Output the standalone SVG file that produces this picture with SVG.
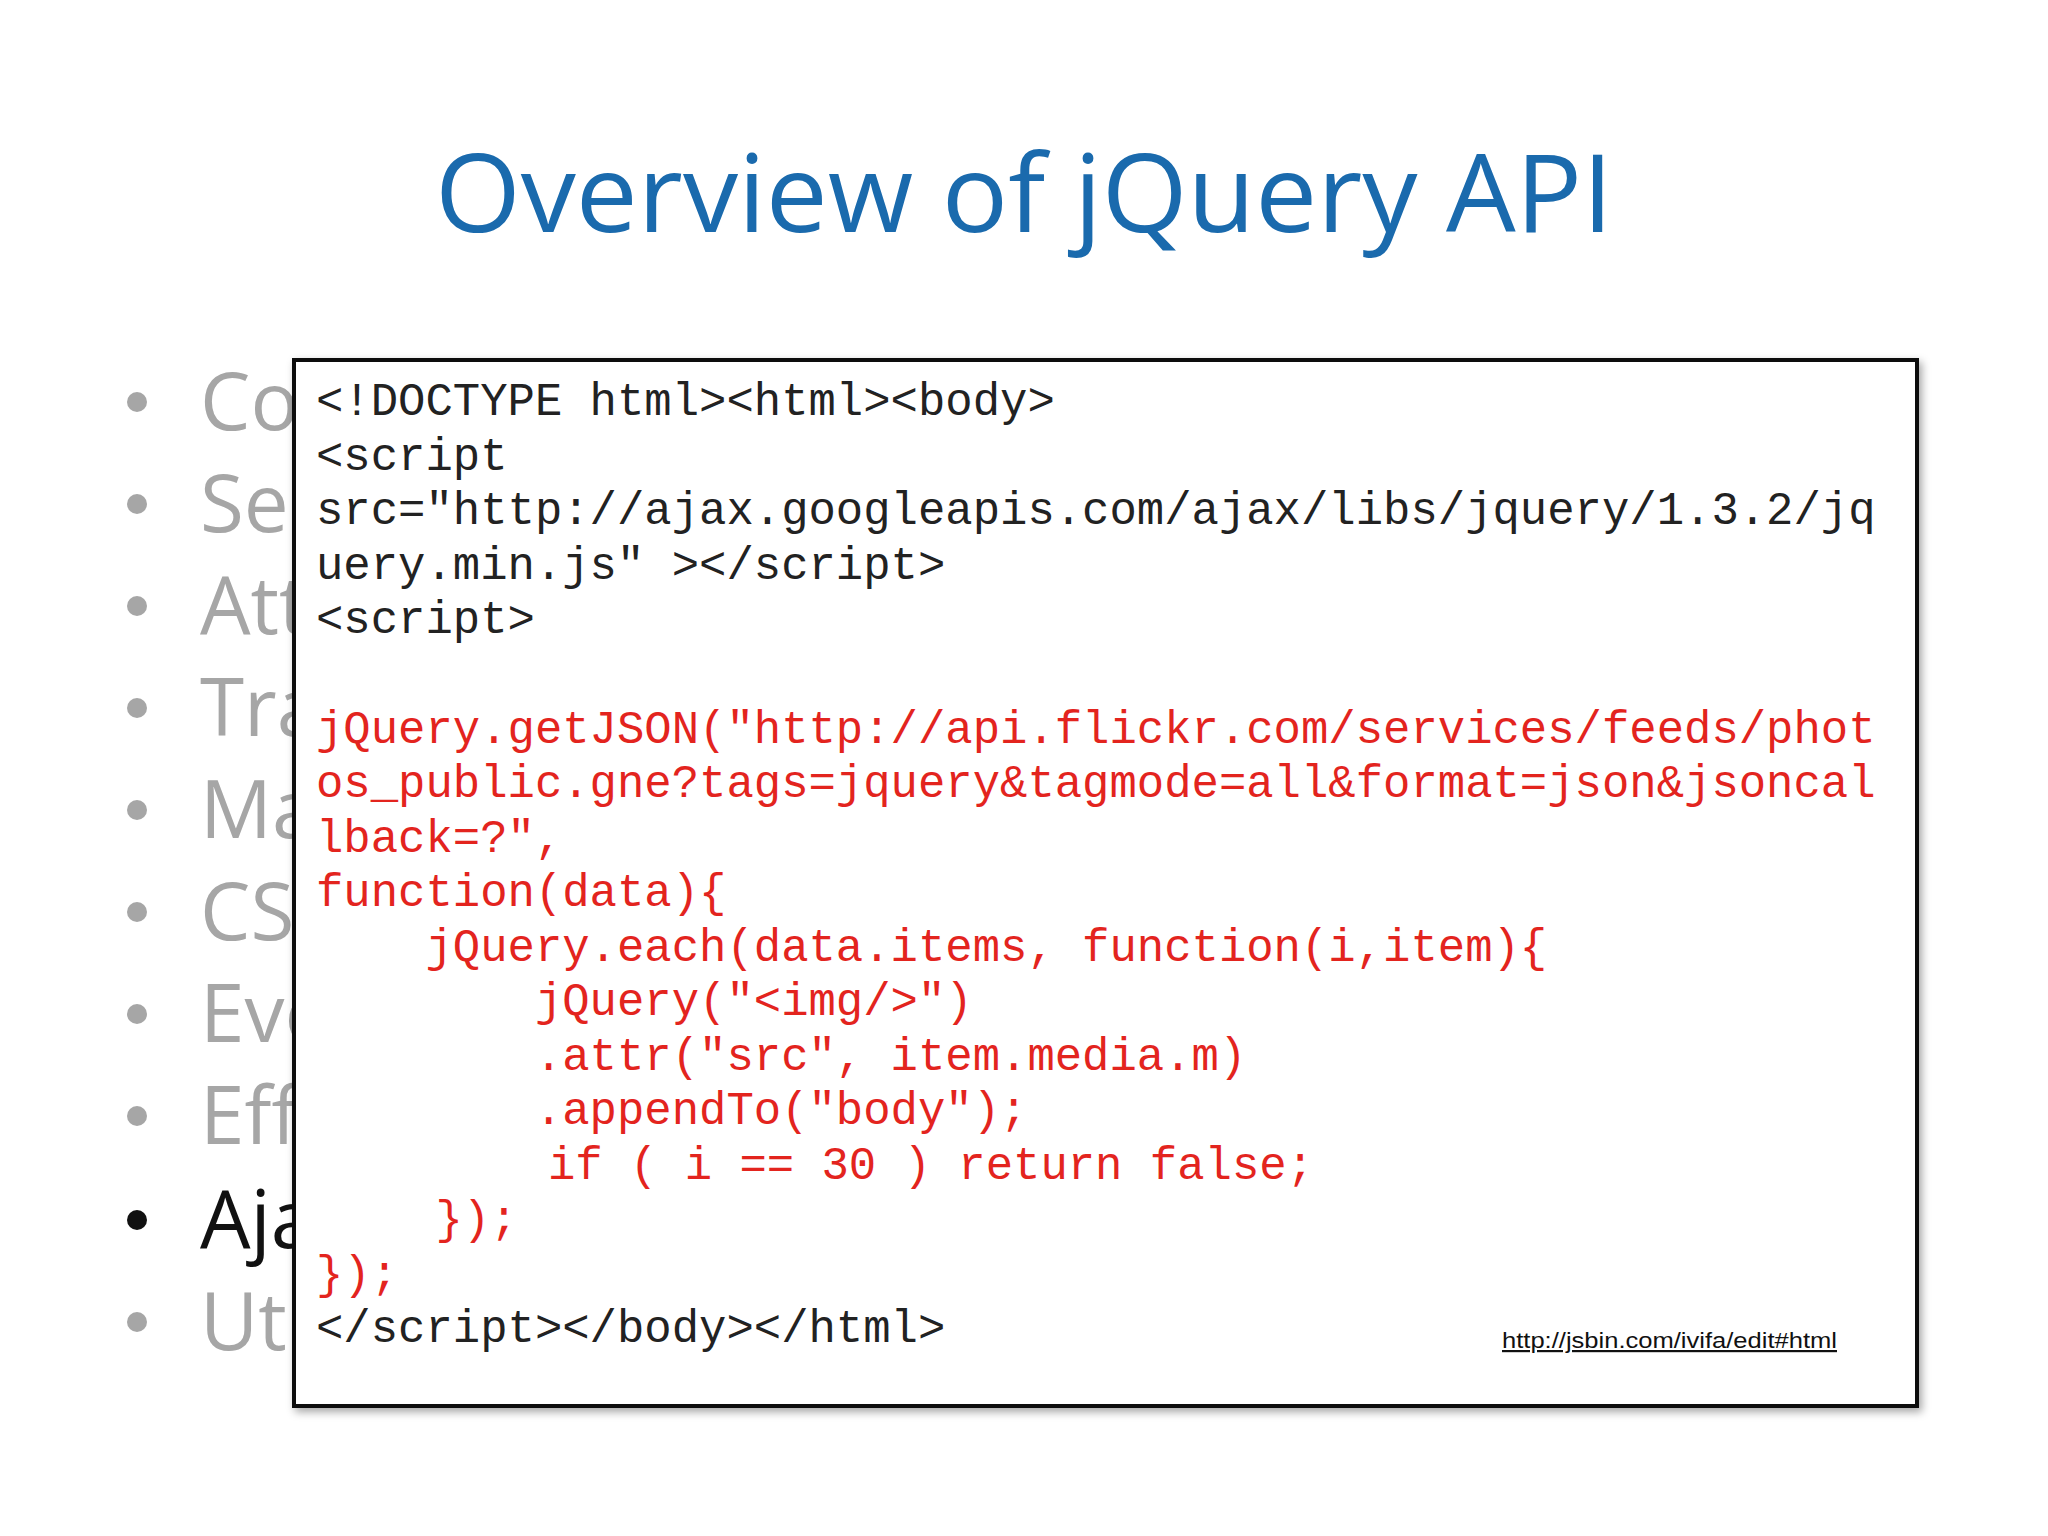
<svg xmlns="http://www.w3.org/2000/svg" width="2048" height="1536" viewBox="0 0 2048 1536">
<style>
.b{font-family:"Open Sans","Liberation Sans",sans-serif;font-size:80px;fill:#a6a6a6}
.d{fill:#a6a6a6}
.c{font-family:"Liberation Mono","DejaVu Sans Mono",monospace;font-size:45.6px;white-space:pre}
.k{fill:#222}
.r{fill:#e3241e}
</style>
<defs>
<filter id="sh" x="-5%" y="-5%" width="110%" height="110%"><feDropShadow dx="3" dy="4" stdDeviation="4" flood-opacity="0.35"/></filter>
<clipPath id="cl"><rect x="0" y="300" width="294" height="1150"/></clipPath>
</defs>
<rect width="2048" height="1536" fill="#fff"/>
<text x="1024" y="232" text-anchor="middle" font-family="'Open Sans','Liberation Sans',sans-serif" font-size="108" fill="#1a6aad" textLength="1178" lengthAdjust="spacingAndGlyphs">Overview of jQuery API</text>
<g id="bullets" clip-path="url(#cl)">
<circle class="d" cx="137" cy="402" r="10"/><text class="b" x="200" y="430">Core</text>
<circle class="d" cx="137" cy="504" r="10"/><text class="b" x="200" y="532">Selectors</text>
<circle class="d" cx="137" cy="606" r="10"/><text class="b" x="200" y="634">Attributes</text>
<circle class="d" cx="137" cy="708" r="10"/><text class="b" x="200" y="736">Traversing</text>
<circle class="d" cx="137" cy="810" r="10"/><text class="b" x="200" y="838">Manipulation</text>
<circle class="d" cx="137" cy="912" r="10"/><text class="b" x="200" y="940">CSS</text>
<circle class="d" cx="137" cy="1014" r="10"/><text class="b" x="200" y="1042">Events</text>
<circle class="d" cx="137" cy="1116" r="10"/><text class="b" x="200" y="1144">Effects</text>
<circle cx="137" cy="1220" r="10" fill="#111"/><text class="b" x="200" y="1248" style="fill:#111">Ajax</text>
<circle class="d" cx="137" cy="1322" r="10"/><text class="b" x="200" y="1350">Utilities</text>
</g>
<g id="codebox">
<rect x="294" y="360" width="1623" height="1046" fill="#fff" stroke="#111" stroke-width="4" filter="url(#sh)"/>
<text class="c k" x="316" y="415">&lt;!DOCTYPE html&gt;&lt;html&gt;&lt;body&gt;</text>
<text class="c k" x="316" y="470">&lt;script</text>
<text class="c k" x="316" y="524">src="http://ajax.googleapis.com/ajax/libs/jquery/1.3.2/jq</text>
<text class="c k" x="316" y="579">uery.min.js" &gt;&lt;/script&gt;</text>
<text class="c k" x="316" y="633">&lt;script&gt;</text>
<text class="c r" x="316" y="743">jQuery.getJSON("http://api.flickr.com/services/feeds/phot</text>
<text class="c r" x="316" y="797">os_public.gne?tags=jquery&amp;tagmode=all&amp;format=json&amp;jsoncal</text>
<text class="c r" x="316" y="852">lback=?",</text>
<text class="c r" x="316" y="906">function(data){</text>
<text class="c r" x="316" y="961">    jQuery.each(data.items, function(i,item){</text>
<text class="c r" x="316" y="1015">        jQuery("&lt;img/&gt;")</text>
<text class="c r" x="316" y="1070">        .attr("src", item.media.m)</text>
<text class="c r" x="316" y="1124">        .appendTo("body");</text>
<text class="c r" x="329" y="1179">        if ( i == 30 ) return false;</text>
<text class="c r" x="326" y="1233">    });</text>
<text class="c r" x="316" y="1288">});</text>
<text class="c k" x="316" y="1342">&lt;/script&gt;&lt;/body&gt;&lt;/html&gt;</text>
<text x="1502" y="1348" font-family="'Liberation Sans',sans-serif" font-size="22" fill="#111" text-decoration="underline" textLength="335" lengthAdjust="spacingAndGlyphs">http://jsbin.com/ivifa/edit#html</text>
</g>
</svg>
